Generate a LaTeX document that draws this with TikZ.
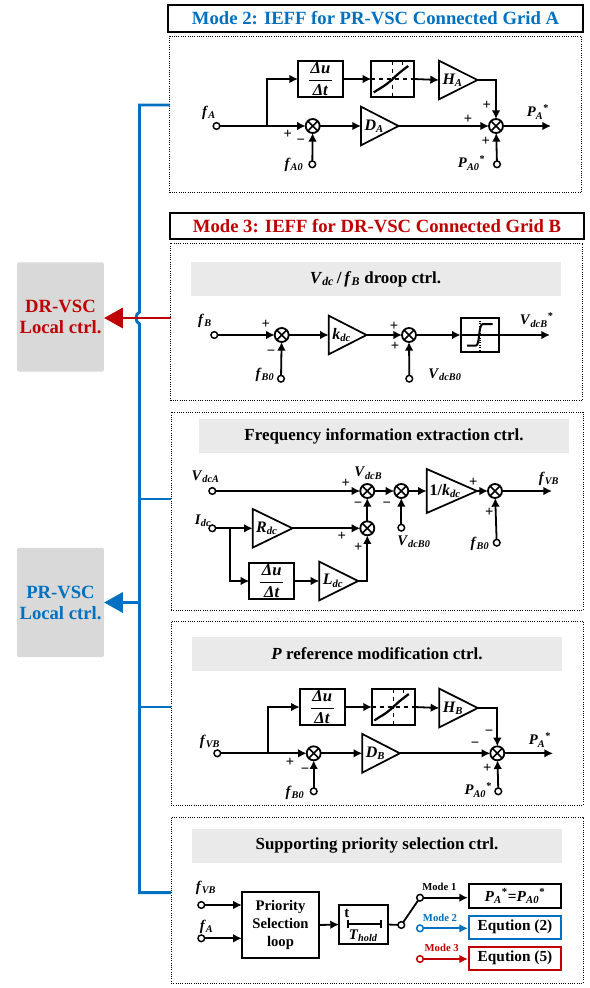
\documentclass[tikz,border=0pt]{standalone}
\usepackage{fontspec}
\setmainfont{Liberation Serif}
\usetikzlibrary{arrows.meta,shapes.geometric,calc}
\definecolor{modeblue}{HTML}{0070C0}
\definecolor{modered}{HTML}{C00000}
\definecolor{headgrey}{HTML}{EAEAEA}
\definecolor{boxgrey}{HTML}{D9D9D9}
\newcommand{\varsub}[2]{\textit{#1}\textsubscript{\textit{#2}}}
\newcommand{\ratefrac}{$\displaystyle{\hbox to 17pt{\hss\textit{Δu}\hss}\above 0.8pt\hbox to 17pt{\hss\textit{Δt}\hss}}$}
\begin{document}
\begin{tikzpicture}[x=0.75pt, y=-0.75pt,
    wire/.style={line width=1.35pt},
    sig/.style={wire, -{Latex[length=6.5pt,width=6.5pt]}},
    term/.style={circle, draw, line width=1.1pt, fill=white, minimum size=5pt, inner sep=0pt, outer sep=0pt},
    sumnode/.style={circle, draw, line width=1.35pt, minimum size=10.5pt, inner sep=0pt, outer sep=0pt,
      path picture={\draw[line width=1.2pt] (path picture bounding box.north west) -- (path picture bounding box.south east)
        (path picture bounding box.north east) -- (path picture bounding box.south west);}},
    gain/.style={isosceles triangle, isosceles triangle stretches, draw, line width=1.3pt, inner sep=0pt, outer sep=0pt,
      minimum width=29pt, minimum height=27.5pt, anchor=lower side, font=\fontsize{12}{14}\bfseries\itshape,
      execute at begin node=\hspace{2pt}},
    block/.style={rectangle, draw, line width=1.35pt, inner sep=0pt, outer sep=0pt, align=center,
      font=\fontsize{11}{13.5}\bfseries},
    rateblock/.style={block, minimum width=33.75pt, minimum height=27pt, font=\fontsize{12.5}{14}\bfseries},
    deadband/.style={block, minimum width=32pt, minimum height=27pt,
      path picture={\draw[dashed, line width=1pt] (path picture bounding box.west) -- (path picture bounding box.east)
        (path picture bounding box.north) -- (path picture bounding box.south);
        \draw[shift={(path picture bounding box.center)}, dashed, line width=1pt] (10,-18) -- (10,-8);
        \draw[shift={(path picture bounding box.center)}, line width=1.7pt]
        (-19,13.5) .. controls (-13,9) and (-10,9) .. (0,0) .. controls (6,-6) and (9,-8) .. (15.5,-13);}},
    limiter/.style={block, minimum width=29pt, minimum height=25pt,
      path picture={\draw[densely dotted, line width=0.8pt] (path picture bounding box.north) -- (path picture bounding box.south);
        \draw[line width=0.8pt] (path picture bounding box.west) -- (path picture bounding box.east);
        \draw[shift={(path picture bounding box.center)}, line width=1.5pt]
        (-13,10.5) -- (-4,10.5) .. controls (0,10.5) and (-2,-11) .. (3,-11) -- (12.5,-11);}},
    panel/.style={rectangle, draw, densely dotted, line width=0.7pt, minimum width=309pt, inner sep=0pt, outer sep=0pt},
    header/.style={rectangle, fill=headgrey, minimum width=277.5pt, minimum height=25.5pt, inner sep=0pt,
      font=\fontsize{12.7}{15}\bfseries},
    modetitle/.style={rectangle, draw, line width=1.5pt, minimum width=311pt, minimum height=20pt, inner sep=0pt,
      font=\fontsize{14}{16}\bfseries},
    localbox/.style={rectangle, rounded corners=1pt, fill=boxgrey, minimum width=65pt, minimum height=82pt, inner sep=0pt,
      align=center, font=\fontsize{14}{15.75}\bfseries},
    eqbox/.style={rectangle, draw, line width=1.6pt, minimum width=69pt, minimum height=17.5pt, inner sep=0pt,
      font=\fontsize{11.5}{13}\bfseries},
    varlabel/.style={inner sep=0pt, font=\fontsize{11}{13}\bfseries},
    sign/.style={inner sep=0pt, font=\fontsize{11}{13}\bfseries},
    modelabel/.style={inner sep=0pt, font=\fontsize{8}{10}\bfseries},
    busline/.style={modeblue, line width=2.2pt},
  ]
  \useasboundingbox (0,0) rectangle (589,988);

  % Panels and titles
  \node[modetitle, text=modeblue] (a-title) at (375.5,18.5) {Mode 2: IEFF for PR-VSC Connected Grid A};
  \node[panel, minimum height=117pt] (a-panel) at (375.5,114.5) {};
  \node[modetitle, text=modered] (b-title) at (377,226) {Mode 3: IEFF for DR-VSC Connected Grid B};
  \node[panel, minimum height=117.75pt] (b-panel) at (376.5,321.5) {};
  \node[panel, minimum height=148.5pt] (c-panel) at (377,511) {};
  \node[panel, minimum height=138pt] (d-panel) at (377,713) {};
  \node[panel, minimum height=124.5pt] (e-panel) at (377,900) {};

  \node[header] (b-head) at (375.5,279) {\textit{V}\textsubscript{\textit{dc}}\,/\,\textit{f}\textsubscript{\textit{B}} droop ctrl.};
  \node[header] (c-head) at (384,436) {Frequency information extraction ctrl.};
  \node[header] (d-head) at (377,654) {\textit{P} reference modification ctrl.};
  \node[header] (e-head) at (377,845.5) {Supporting priority selection ctrl.};

  % Left side: local control boxes and bus
  \node[localbox, text=modered] (dr-box) at (60.5,317) {DR-VSC\\Local ctrl.};
  \node[localbox, text=modeblue] (pr-box) at (60.5,602.5) {PR-VSC\\Local ctrl.};

  \coordinate (bus-a) at (139.5,105);
  \coordinate (bus-c) at (139.5,499);
  \coordinate (bus-d) at (139.5,707);
  \coordinate (bus-e) at (139.5,892.7);
  \coordinate (bus-pr) at (139.5,602.5);
  \coordinate (dr-in) at (170.5,318);
  \draw[busline] (bus-a -| a-panel.west) -- (bus-a) -- (139.5,312) .. controls (135,313.5) and (135,322.5) .. (139.5,324) -- (bus-e) -- (bus-e -| e-panel.west);
  \draw[busline] (bus-c) -- (bus-c -| c-panel.west);
  \draw[busline] (bus-d) -- (bus-d -| d-panel.west);
  \draw[busline, -{Triangle[length=14pt,width=15pt]}] (bus-pr) -- (pr-box.east);
  \draw[modered, line width=2.2pt, -{Triangle[length=14pt,width=15pt]}] (dr-in) -- (dr-in -| dr-box.east);

  % Mode 2 panel
  \node[term] (a-f) at (216.5,126) {};
  \node[sumnode] (a-sum1) at (312.7,126) {};
  \node[gain] (a-gainD) at (361,126) {\varsub{D}{A}};
  \node[sumnode] (a-sum2) at (496,126) {};
  \coordinate (a-out) at (551,126);
  \coordinate (a-branch) at (266.7,126);
  \node[rateblock] (a-rate) at (320.5,79) {\ratefrac};
  \node[deadband] (a-band) at (392.7,79) {};
  \node[gain] (a-gainH) at (439,80) {\varsub{H}{A}};
  \node[term] (a-f0) at (312.3,164.3) {};
  \node[term] (a-p0) at (497,164.3) {};

  \draw[wire] (a-f) -- (a-branch);
  \draw[sig] (a-branch) -- (a-sum1);
  \draw[sig] (a-sum1) -- (a-gainD.lower side);
  \draw[sig] (a-gainD.apex) -- (a-sum2);
  \draw[sig] (a-sum2) -- (a-out);
  \draw[sig] (a-branch) |- (a-rate.west);
  \draw[sig] (a-rate.east) -- (a-band.west);
  \draw[sig] (a-band.east) -- (a-gainH.lower side);
  \draw[sig] (a-gainH.apex) -| (a-sum2);
  \draw[sig] (a-f0) -- (a-sum1);
  \draw[sig] (a-p0) -- (a-sum2);

  \node[varlabel] (a-l1) at (209,113) {\varsub{f}{A}};
  \node[varlabel] (a-l2) at (294,165) {\varsub{f}{A0}};
  \node[varlabel] (a-l3) at (471.7,163) {\varsub{P}{A0}\textsuperscript{*}};
  \node[varlabel] (a-l4) at (538,112) {\varsub{P}{A}\textsuperscript{*}};
  \node[sign] (a-s1) at (287.7,134) {+};
  \node[sign] (a-s2) at (300.7,142) {−};
  \node[sign] (a-s3) at (468,119) {+};
  \node[sign] (a-s4) at (486.7,105.7) {+};
  \node[sign] (a-s5) at (485.7,141) {+};

  % Mode 3: droop panel
  \node[term] (b-f) at (214.3,335) {};
  \node[sumnode] (b-sum1) at (281.7,335) {};
  \node[gain, minimum height=25pt] (b-gainK) at (328.7,335) {\varsub{k}{dc}};
  \node[sumnode] (b-sum2) at (409,335) {};
  \node[limiter] (b-limit) at (480,335) {};
  \coordinate (b-out) at (550,335);
  \node[term] (b-f0) at (281,378.7) {};
  \node[term] (b-v0) at (409.3,378.7) {};

  \draw[sig] (b-f) -- (b-sum1);
  \draw[sig] (b-sum1) -- (b-gainK.lower side);
  \draw[sig] (b-gainK.apex) -- (b-sum2);
  \draw[sig] (b-sum2) -- (b-limit.west);
  \draw[sig] (b-limit.east) -- (b-out);
  \draw[sig] (b-f0) -- (b-sum1);
  \draw[sig] (b-v0) -- (b-sum2);

  \node[varlabel] (b-l1) at (205,320.7) {\varsub{f}{B}};
  \node[varlabel] (b-l2) at (265,375) {\varsub{f}{B0}};
  \node[varlabel] (b-l3) at (445,375) {\varsub{V}{dcB0}};
  \node[varlabel] (b-l4) at (536.7,320) {\varsub{V}{dcB}\textsuperscript{*}};
  \node[sign] (b-s1) at (265.7,324) {+};
  \node[sign] (b-s2) at (271,353) {−};
  \node[sign] (b-s3) at (394,326.7) {+};
  \node[sign] (b-s4) at (395,346.7) {+};

  % Frequency information panel
  \node[term] (c-v) at (212.3,491) {};
  \node[sumnode] (c-sum1) at (367.3,491) {};
  \node[sumnode] (c-sum2) at (401.3,491) {};
  \node[gain, minimum width=33pt, minimum height=29pt] (c-gainK) at (426.7,491) {\textup{1/}\varsub{k}{dc}};
  \node[sumnode] (c-sum3) at (495,491) {};
  \coordinate (c-out) at (552,491);
  \node[term] (c-i) at (212.3,528.3) {};
  \node[gain] (c-gainR) at (252.7,528.3) {\varsub{R}{dc}};
  \node[sumnode] (c-sum4) at (367.3,528.3) {};
  \coordinate (c-branch) at (230,528.3);
  \node[rateblock] (c-rate) at (271.8,581) {\ratefrac};
  \node[gain] (c-gainL) at (319.3,581) {\varsub{L}{dc}};
  \node[term] (c-v0) at (401.3,527.7) {};
  \node[term] (c-f0) at (496.7,542.7) {};

  \draw[sig] (c-v) -- (c-sum1);
  \draw[sig] (c-sum1) -- (c-sum2);
  \draw[sig] (c-sum2) -- (c-gainK.lower side);
  \draw[sig] (c-gainK.apex) -- (c-sum3);
  \draw[sig] (c-sum3) -- (c-out);
  \draw[sig] (c-i) -- (c-gainR.lower side);
  \draw[sig] (c-gainR.apex) -- (c-sum4);
  \draw[sig] (c-sum4) -- (c-sum1);
  \draw[sig] (c-branch) |- (c-rate.west);
  \draw[sig] (c-rate.east) -- (c-gainL.lower side);
  \draw[sig] (c-gainL.apex) -| (c-sum4);
  \draw[sig] (c-v0) -- (c-sum2);
  \draw[sig] (c-f0) -- (c-sum3);

  \node[varlabel] (c-l1) at (205.7,476.7) {\varsub{V}{dcA}};
  \node[varlabel] (c-l2) at (203,521) {\varsub{I}{dc}};
  \node[varlabel] (c-l3) at (368.3,473.3) {\varsub{V}{dcB}};
  \node[varlabel] (c-l4) at (414,541.7) {\varsub{V}{dcB0}};
  \node[varlabel] (c-l5) at (480,544) {\varsub{f}{B0}};
  \node[varlabel] (c-l6) at (549,479) {\varsub{f}{VB}};
  \node[sign] (c-s1) at (345.7,483.3) {+};
  \node[sign] (c-s2) at (358,504.7) {−};
  \node[sign] (c-s3) at (386.7,504.7) {−};
  \node[sign] (c-s4) at (473.3,482.3) {+};
  \node[sign] (c-s5) at (489.3,512.3) {+};
  \node[sign] (c-s6) at (341.7,536.7) {+};
  \node[sign] (c-s7) at (358.3,547.7) {+};

  % P reference panel
  \node[term] (d-f) at (217.3,753.3) {};
  \node[sumnode] (d-sum1) at (313.7,753.3) {};
  \node[gain] (d-gainD) at (362.3,753.3) {\varsub{D}{B}};
  \node[sumnode] (d-sum2) at (497.3,753.3) {};
  \coordinate (d-out) at (553,753.3);
  \coordinate (d-branch) at (267.7,753.3);
  \node[rateblock] (d-rate) at (322.2,707) {\ratefrac};
  \node[deadband] (d-band) at (393.3,707) {};
  \node[gain] (d-gainH) at (439.3,708) {\varsub{H}{B}};
  \node[term] (d-f0) at (313.7,791.3) {};
  \node[term] (d-p0) at (498.3,791.3) {};

  \draw[wire] (d-f) -- (d-branch);
  \draw[sig] (d-branch) -- (d-sum1);
  \draw[sig] (d-sum1) -- (d-gainD.lower side);
  \draw[sig] (d-gainD.apex) -- (d-sum2);
  \draw[sig] (d-sum2) -- (d-out);
  \draw[sig] (d-branch) |- (d-rate.west);
  \draw[sig] (d-rate.east) -- (d-band.west);
  \draw[sig] (d-band.east) -- (d-gainH.lower side);
  \draw[sig] (d-gainH.apex) -| (d-sum2);
  \draw[sig] (d-f0) -- (d-sum1);
  \draw[sig] (d-p0) -- (d-sum2);

  \node[varlabel] (d-l1) at (210,741.7) {\varsub{f}{VB}};
  \node[varlabel] (d-l2) at (295,792.7) {\varsub{f}{B0}};
  \node[varlabel] (d-l3) at (478.3,790) {\varsub{P}{A0}\textsuperscript{*}};
  \node[varlabel] (d-l4) at (540,740) {\varsub{P}{A}\textsuperscript{*}};
  \node[sign] (d-s1) at (290,762.7) {+};
  \node[sign] (d-s2) at (305,771) {−};
  \node[sign] (d-s3) at (475,745) {−};
  \node[sign] (d-s4) at (489,733.3) {−};
  \node[sign] (d-s5) at (487.3,768.3) {+};

  % Supporting priority panel
  \node[term] (e-f1) at (201.3,905) {};
  \node[term] (e-f2) at (201.3,938.3) {};
  \node[block, minimum width=58pt, minimum height=50pt] (e-select) at (280.5,925) {Priority\\Selection\\loop};
  \node[block, minimum width=36.5pt, minimum height=29pt] (e-hold) at (363.3,924.5) {};
  \node[term] (e-sw1) at (401.3,925) {};
  \node[term] (e-sw2) at (420,897.7) {};
  \node[term, draw=modeblue] (e-sw3) at (420,928.3) {};
  \node[term, draw=modered] (e-sw4) at (420,959) {};
  \node[eqbox] (e-eq1) at (515,896) {\varsub{P}{A}\textsuperscript{*}=\varsub{P}{A0}\textsuperscript{*}};
  \node[eqbox, draw=modeblue] (e-eq2) at (515,927.3) {Eqution (2)};
  \node[eqbox, draw=modered] (e-eq3) at (515,958.3) {Eqution (5)};

  \coordinate (e-bar1) at (346.7,924);
  \coordinate (e-bar2) at (381.7,924);
  \draw[wire, {Bar[width=6pt]}-{Bar[width=6pt]}] (e-bar1) -- (e-bar2);
  \node[varlabel] (e-t) at (346.7,913.3) {t};
  \node[varlabel] (e-thold) at (363.3,936) {\varsub{T}{hold}};

  \draw[sig] (e-f1) -- (e-f1 -| e-select.west);
  \draw[sig] (e-f2) -- (e-f2 -| e-select.west);
  \draw[sig] (e-select.east) -- (e-hold.west);
  \draw[wire] (e-hold.east) -- (e-sw1);
  \draw[wire] (e-sw1) -- (e-sw2);
  \draw[sig] (e-sw2) -- (e-sw2 -| e-eq1.west);
  \draw[sig, modeblue] (e-sw3) -- (e-sw3 -| e-eq2.west);
  \draw[sig, modered] (e-sw4) -- (e-sw4 -| e-eq3.west);

  \node[varlabel] (e-l1) at (206,887.7) {\varsub{f}{VB}};
  \node[varlabel] (e-l2) at (206.7,926.7) {\varsub{f}{A}};
  \node[modelabel] (e-m1) at (439.3,886.7) {Mode 1};
  \node[modelabel, text=modeblue] (e-m2) at (440,918.3) {Mode 2};
  \node[modelabel, text=modered] (e-m3) at (441.7,948.3) {Mode 3};
\end{tikzpicture}
\end{document}
